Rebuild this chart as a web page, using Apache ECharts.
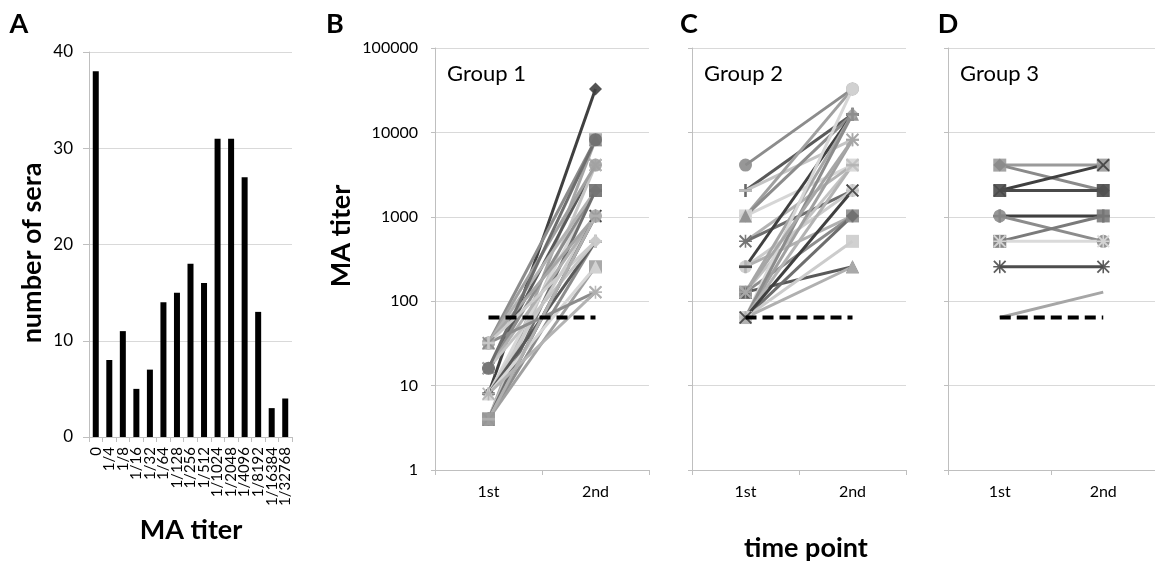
<!DOCTYPE html>
<html>
<head>
<meta charset="utf-8">
<script src="https://cdn.jsdelivr.net/npm/echarts@6/dist/echarts.min.js"></script>
<style>
html,body{margin:0;padding:0;background:#fff;}
#chart{width:1155px;height:564px;}
</style>
</head>
<body>
<div id="chart"></div>
<script>
// ---------- DATA ----------
const titerCategories = ['0','1/4','1/8','1/16','1/32','1/64','1/128','1/256','1/512','1/1024','1/2048','1/4096','1/8192','1/16384','1/32768'];
const seraCounts = [38, 8, 11, 5, 7, 14, 15, 18, 16, 31, 31, 27, 13, 3, 4];

const timePoints = ['1st', '2nd'];
const cutoffTiter = 64;

const group1First  = [8, 4, 32, 16, 4, 32, 8, 16, 32, 4, 8, 16, 4, 32, 4, 8, 16, 4, 8, 32, 8, 16, 32, 4];
const group1Second = [32768, 8192, 8192, 4096, 4096, 4096, 2048, 2048, 2048, 2048, 1024, 1024, 1024, 1024, 512, 512, 512, 256, 256, 128, 128, 8192, 512, 1024];

const group2First  = [4096, 2048, 2048, 1024, 1024, 1024, 512, 512, 256, 256, 256, 128, 128, 128, 128, 64, 64, 64, 64, 64, 64, 64, 64, 128];
const group2Second = [32768, 16384, 8192, 32768, 4096, 16384, 4096, 2048, 2048, 1024, 16384, 16384, 1024, 256, 4096, 8192, 32768, 16384, 4096, 1024, 512, 256, 2048, 8192];

const group3First  = [4096, 4096, 2048, 2048, 1024, 1024, 512, 512, 256, 64];
const group3Second = [4096, 2048, 4096, 2048, 1024, 512, 1024, 512, 256, 128];

const groupNames = ['Group 1', 'Group 2', 'Group 3'];

// ---------- STYLE ----------
const FONT = 'Lato, "Open Sans", sans-serif';
const SYM_X = 'path://M0,1L1,0L5,4L9,0L10,1L6,5L10,9L9,10L5,6L1,10L0,9L4,5Z';
const SYM_STAR = 'path://M0,1L1,0L4.4,3.4L4.4,0L5.6,0L5.6,3.4L9,0L10,1L6.6,4.4L10,4.4L10,5.6L6.6,5.6L10,9L9,10L5.6,6.6L5.6,10L4.4,10L4.4,6.6L1,10L0,9L3.4,5.6L0,5.6L0,4.4L3.4,4.4Z';
const SYM_PLUS = 'path://M4,0L6,0L6,4L10,4L10,6L6,6L6,10L4,10L4,6L0,6L0,4L4,4Z';
const SYM_DASH = 'path://M0,4L10,4L10,6L0,6Z';
const symbolCycle = ['diamond', 'rect', 'triangle', SYM_X, SYM_STAR, 'circle', SYM_PLUS, SYM_DASH];
const grayCycle = ['#404040', '#a6a6a6', '#8c8c8c', '#595959', '#c4c4c4', '#a0a0a0', '#d6d6d6', '#8c8c8c', '#b3b3b3', '#6e6e6e', '#cccccc', '#b0b0b0'];
const group3Colors = ['#9a9a9a', '#8a8a8a', '#404040', '#4a4a4a', '#404040', '#8c8c8c', '#7a7a7a', '#dadada', '#4d4d4d', '#a6a6a6'];
const group3Symbols = ['rect', 'diamond', SYM_X, 'rect', SYM_PLUS, 'circle', 'rect', SYM_STAR, SYM_STAR, 'none'];

const gridLine = '#d9d9d9';
const axisGray = '#bfbfbf';

const chart = echarts.init(document.getElementById('chart'));

const panelLefts = [435, 692, 948];
const grids = [{left: 89, top: 52, width: 203, height: 385}];
panelLefts.forEach(l => grids.push({left: l, top: 48, width: 214, height: 422}));

const xAxes = [{
  gridIndex: 0, type: 'category', data: titerCategories, boundaryGap: true,
  axisLine: {lineStyle: {color: axisGray}},
  axisTick: {show: true, alignWithLabel: false, length: 5, lineStyle: {color: axisGray}},
  axisLabel: {rotate: 90, interval: 0, margin: 10, fontSize: 15, color: '#000', fontFamily: FONT, hideOverlap: false}
}];
const yAxes = [{
  gridIndex: 0, type: 'value', min: 0, max: 40, interval: 10,
  axisLine: {show: true, lineStyle: {color: axisGray}},
  axisTick: {show: true, length: 6, lineStyle: {color: axisGray}},
  splitLine: {lineStyle: {color: gridLine}},
  axisLabel: {fontSize: 17, color: '#000', fontFamily: FONT, margin: 16}
}];
for (let g = 1; g <= 3; g++) {
  xAxes.push({
    gridIndex: g, type: 'category', data: timePoints, boundaryGap: true,
    axisLine: {lineStyle: {color: axisGray}},
    axisTick: {show: true, alignWithLabel: false, length: 5, lineStyle: {color: axisGray}},
    axisLabel: {fontSize: 16, color: '#000', fontFamily: FONT, margin: 14}
  });
  yAxes.push({
    gridIndex: g, type: 'log', logBase: 10, min: 1, max: 100000, splitNumber: 5,
    axisLine: {show: true, lineStyle: {color: axisGray}},
    axisTick: {show: true, length: 4, lineStyle: {color: axisGray}},
    splitLine: {show: true, lineStyle: {color: gridLine}},
    axisLabel: {show: g === 1, fontSize: 16, color: '#000', fontFamily: FONT, margin: 17,
      formatter: v => String(Math.round(v))}
  });
}

const series = [{
  type: 'bar', xAxisIndex: 0, yAxisIndex: 0, data: seraCounts,
  barWidth: 6, itemStyle: {color: '#000'}, silent: true
}];

function addGroup(gi, firsts, seconds, colorFn, symbolFn) {
  firsts.forEach((f, i) => {
    const c = colorFn(i);
    const s = symbolFn(i);
    series.push({
      type: 'line', xAxisIndex: gi, yAxisIndex: gi,
      data: [f, seconds[i]],
      symbol: s, symbolSize: 13, symbolKeepAspect: true, showSymbol: s !== 'none',
      lineStyle: {color: c, width: 3},
      itemStyle: {color: c, opacity: 0.9},
      silent: true, z: 2
    });
  });
  series.push({
    type: 'line', xAxisIndex: gi, yAxisIndex: gi,
    data: [cutoffTiter, cutoffTiter], symbol: 'none',
    lineStyle: {color: '#000', width: 4, type: [11, 6]},
    silent: true, z: 10
  });
}
addGroup(1, group1First, group1Second, i => grayCycle[i % grayCycle.length], i => symbolCycle[i % symbolCycle.length]);
addGroup(2, group2First, group2Second, i => grayCycle[(i + 2) % grayCycle.length], i => symbolCycle[(i + 5) % symbolCycle.length]);
addGroup(3, group3First, group3Second, i => group3Colors[i], i => group3Symbols[i]);

function txt(x, y, text, size, bold, rot) {
  return {
    type: 'text', x: x, y: y, rotation: rot || 0, silent: true,
    style: {text: text, fill: '#000', font: (bold ? 'bold ' : '') + size + 'px ' + FONT,
      textAlign: 'center', textVerticalAlign: 'middle'}
  };
}
const graphics = [
  txt(19, 24, 'A', 27, true),
  txt(335, 24, 'B', 27, true),
  txt(689, 24, 'C', 27, true),
  txt(948, 24, 'D', 27, true),
  txt(32, 253, 'number of sera', 27, true, Math.PI / 2),
  txt(191, 530, 'MA titer', 27, true),
  txt(341, 236, 'MA titer', 27, true, Math.PI / 2),
  txt(806, 548, 'time point', 27, true)
];
panelLefts.forEach((l, i) => {
  graphics.push({
    type: 'text', x: l + 12, y: 74, silent: true,
    style: {text: groupNames[i], fill: '#000', font: '22px ' + FONT, textAlign: 'left', textVerticalAlign: 'middle'}
  });
});

chart.setOption({
  animation: false,
  backgroundColor: '#fff',
  grid: grids,
  xAxis: xAxes,
  yAxis: yAxes,
  series: series,
  graphic: graphics
});
</script>
</body>
</html>
